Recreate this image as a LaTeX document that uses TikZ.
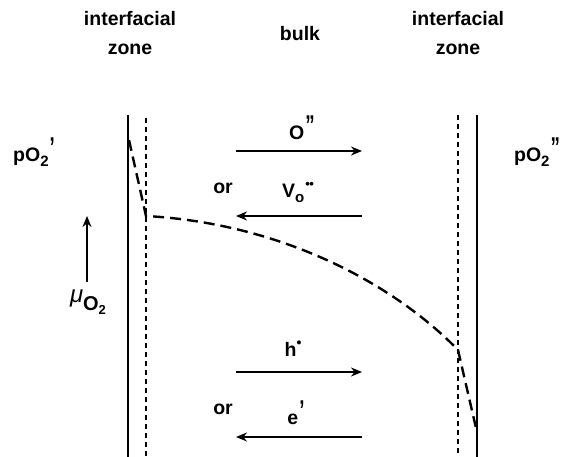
\documentclass[tikz,border=0pt]{standalone}
\usepackage{fontspec}
\setmainfont{Liberation Sans}
\usetikzlibrary{arrows.meta}
\newcommand{\sbx}[1]{\raisebox{-5pt}{\fontsize{15}{15}\selectfont\bfseries #1}}
\newcommand{\spx}[1]{\raisebox{5pt}{\fontsize{17}{17}\selectfont\bfseries\scalebox{1.1}[1.6]{#1}}}
\begin{document}
\begin{tikzpicture}[x=1pt,y=-1pt,
  lbl/.style={font=\fontsize{19.5}{22}\selectfont\bfseries, inner sep=0pt},
  wall/.style={line width=2.9pt},
  zone/.style={line width=2.4pt, dash pattern=on 5pt off 4pt},
  flux/.style={line width=2.6pt, -{Stealth[length=11pt,width=9pt]}},
  prof/.style={line width=2.4pt, dash pattern=on 11pt off 6pt}]
\useasboundingbox (0,0) rectangle (572,457);
% walls
\coordinate (lw1) at (128,115); \coordinate (lw2) at (128,457);
\coordinate (ld1) at (146,118); \coordinate (ld2) at (146,457);
\coordinate (rd1) at (458,115); \coordinate (rd2) at (458,457);
\coordinate (rw1) at (477,115); \coordinate (rw2) at (477,457);
\draw[wall] (lw1) -- (lw2);
\draw[zone] (ld1) -- (ld2);
\draw[zone] (rd1) -- (rd2);
\draw[wall] (rw1) -- (rw2);
% profile
\coordinate (p0) at (129,140);
\coordinate (p1) at (146,216);
\coordinate (p2) at (458,350);
\coordinate (p3) at (476,428);
\draw[prof] (p0) -- (p1) .. controls (290,224) and (400,290) .. (p2) -- (p3);
% headings
\node[lbl] (iz1) at (130,19) {interfacial};
\node[lbl] (z1) at (130,49) {zone};
\node[lbl] (bk) at (300,34) {bulk};
\node[lbl] (iz2) at (458,19) {interfacial};
\node[lbl] (z2) at (458,49) {zone};
% pO2
\node[lbl] (pl) at (34,152) {pO\sbx{2}\kern1pt\spx{'}};
\node[lbl] (pr) at (537,152) {pO\sbx{2}\kern1pt\spx{''}};
% fluxes
\coordinate (a1s) at (236,151); \coordinate (a1e) at (362,151);
\coordinate (a2s) at (362,216); \coordinate (a2e) at (236,216);
\coordinate (a3s) at (236,372); \coordinate (a3e) at (362,372);
\coordinate (a4s) at (362,437); \coordinate (a4e) at (236,437);
\draw[flux] (a1s) -- (a1e);
\draw[flux] (a2s) -- (a2e);
\draw[flux] (a3s) -- (a3e);
\draw[flux] (a4s) -- (a4e);
\node[lbl] (lO) at (302,128) {O\kern1pt\spx{''}};
\node[lbl] (lV) at (298,192) {V\sbx{o}\kern1pt\raisebox{9pt}{\fontsize{13}{13}\selectfont\textbullet\kern-0.5pt\textbullet}};
\node[lbl] (or1) at (223,188) {or};
\node[lbl] (lh) at (293,349) {h\raisebox{9pt}{\fontsize{14}{14}\selectfont\textbullet}};
\node[lbl] (or2) at (223,409) {or};
\node[lbl] (le) at (296,413) {e\kern1pt\spx{'}};
% mu arrow
\coordinate (m1) at (87,282); \coordinate (m2) at (87,216);
\draw[flux] (m1) -- (m2);
\node[lbl, font=\fontsize{24}{26}\selectfont] (mu) at (88,302) {\textit{μ}\raisebox{-8pt}{\fontsize{20}{20}\selectfont\bfseries O\raisebox{-4pt}{\fontsize{13}{13}\selectfont\bfseries 2}}};
\end{tikzpicture}
\end{document}
